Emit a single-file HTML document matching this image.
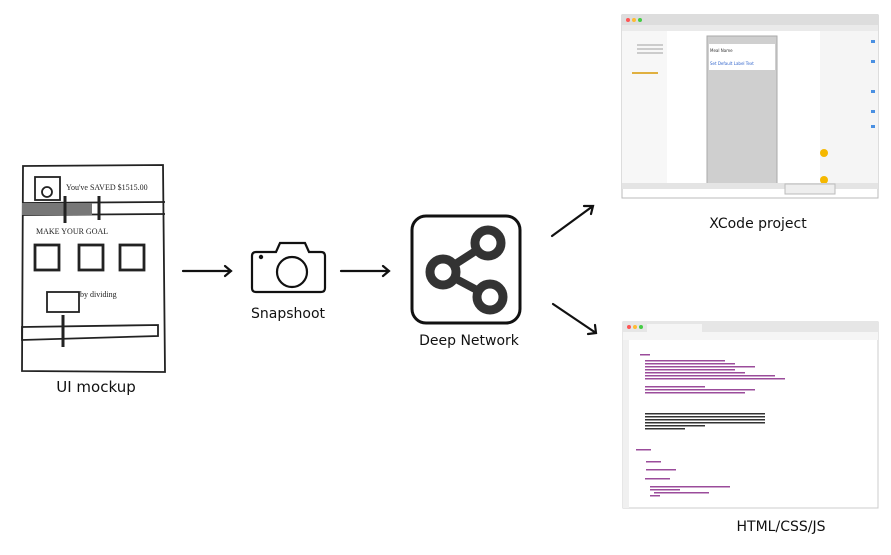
<!DOCTYPE html>
<html><head><meta charset="utf-8"><style>
body{margin:0;background:#fff;width:891px;height:551px;overflow:hidden;font-family:"DejaVu Sans","Liberation Sans",sans-serif}
</style></head><body>
<svg width="891" height="551" viewBox="0 0 891 551" xmlns="http://www.w3.org/2000/svg" font-family="DejaVu Sans, Liberation Sans, sans-serif">
<!-- Mockup sketch -->
<g stroke="#222" fill="none" stroke-width="1.8">
<path d="M23 166 L163 165 L165 372 L22 371 Z"/>
<rect x="35" y="177" width="25" height="23"/>
<circle cx="47" cy="192" r="5"/>
<path d="M22 203 L165 202 M22 215 L165 214"/>
<rect x="22" y="203" width="70" height="12" fill="#777" stroke="none"/>
<path d="M65 196 L65 223 M99 196 L99 220" stroke-width="3"/>
<rect x="35" y="245" width="24" height="25" stroke-width="2.8"/>
<rect x="79" y="245" width="24" height="25" stroke-width="2.8"/>
<rect x="120" y="245" width="24" height="25" stroke-width="2.8"/>
<rect x="47" y="292" width="32" height="20"/>
<path d="M22 327 L158 325 L158 336 L22 340 Z"/>
<path d="M63 315 L63 347" stroke-width="3"/>
</g>
<g font-size="8" fill="#222" font-family="Liberation Serif,serif">
<text x="66" y="190">You've SAVED $1515.00</text>
<text x="36" y="234">MAKE YOUR GOAL</text>
<text x="80" y="297">by dividing</text>
</g>
<text x="96" y="392" font-size="15" text-anchor="middle" fill="#111">UI mockup</text>

<!-- arrows -->
<g stroke="#111" stroke-width="2.2" fill="none" stroke-linecap="round">
<path d="M183 271 L231 271 M225 266 L231 271 L225 276"/>
<path d="M341 271 L389 271 M383 266 L389 271 L383 276"/>
<path d="M552 236 L593 206 M584 206 L593 206 L591 214"/>
<path d="M553 304 L596 333 M595 325 L596 333 L588 334"/>
</g>

<!-- camera -->
<g stroke="#111" stroke-width="2.2" fill="none">
<path d="M256 252 Q252 252 252 256 L252 288 Q252 292 256 292 L321 292 Q325 292 325 288 L325 256 Q325 252 321 252 L309 252 L305 243 L280 243 L276 252 Z"/>
<circle cx="292" cy="272" r="15"/>
</g>
<circle cx="261" cy="257" r="2.2" fill="#111"/>
<text x="288" y="318" font-size="14" text-anchor="middle" fill="#111">Snapshoot</text>

<!-- deep network -->
<rect x="412" y="216" width="108" height="107" rx="14" fill="none" stroke="#111" stroke-width="3"/>
<g stroke="#333" fill="none">
<path d="M443 272 L488 243 M443 272 L490 297" stroke-width="8"/>
<circle cx="443" cy="272" r="13" stroke-width="9" fill="#fff"/>
<circle cx="488" cy="243" r="13" stroke-width="9" fill="#fff"/>
<circle cx="490" cy="297" r="13" stroke-width="9" fill="#fff"/>
</g>
<text x="469" y="345" font-size="14" text-anchor="middle" fill="#111">Deep Network</text>

<!-- XCode screenshot -->
<rect x="622" y="15" width="256" height="183" fill="#fff" stroke="#bbb"/>
<rect x="622" y="15" width="256" height="10" fill="#ddd"/>
<circle cx="628" cy="20" r="2" fill="#f55"/><circle cx="634" cy="20" r="2" fill="#fb3"/><circle cx="640" cy="20" r="2" fill="#4c4"/>
<rect x="622" y="25" width="256" height="6" fill="#eaeaea"/>
<rect x="622" y="31" width="45" height="152" fill="#f7f7f7"/>
<rect x="637" y="44" width="26" height="2" fill="#ccc"/>
<rect x="637" y="48" width="26" height="2" fill="#ccc"/>
<rect x="637" y="52" width="26" height="2" fill="#ccc"/>
<rect x="632" y="72" width="26" height="2" fill="#e0b040"/>
<rect x="707" y="36" width="70" height="150" fill="#cfcfcf" stroke="#aaa"/>
<rect x="709" y="44" width="66" height="26" fill="#fff"/>
<text x="710" y="52" font-size="4" fill="#333">Meal Name</text>
<text x="710" y="65" font-size="4" fill="#36c">Set Default Label Text</text>
<rect x="820" y="31" width="58" height="152" fill="#f5f5f5"/>
<g fill="#4a90e2"><rect x="871" y="40" width="4" height="3"/><rect x="871" y="60" width="4" height="3"/><rect x="871" y="90" width="4" height="3"/><rect x="871" y="110" width="4" height="3"/><rect x="871" y="125" width="4" height="3"/></g>
<circle cx="824" cy="153" r="4" fill="#f5b800"/>
<circle cx="824" cy="180" r="4" fill="#f5b800"/>
<rect x="622" y="183" width="256" height="6" fill="#e4e4e4"/>
<rect x="785" y="184" width="50" height="10" fill="#eee" stroke="#bbb"/>
<text x="758" y="228" font-size="14" text-anchor="middle" fill="#111">XCode project</text>

<!-- HTML screenshot -->
<rect x="623" y="322" width="255" height="186" fill="#fff" stroke="#ccc"/>
<rect x="623" y="322" width="255" height="10" fill="#e6e6e6"/>
<circle cx="629" cy="327" r="2" fill="#f55"/><circle cx="635" cy="327" r="2" fill="#fb3"/><circle cx="641" cy="327" r="2" fill="#4c4"/>
<rect x="647" y="324" width="55" height="8" fill="#f5f5f5"/>
<rect x="623" y="332" width="255" height="8" fill="#f5f5f5"/>
<rect x="623" y="340" width="6" height="168" fill="#f0f0f0"/>
<g fill="#9b4c9b">
<rect x="640" y="354" width="10" height="1.5"/><rect x="645" y="360" width="80" height="1.5"/>
<rect x="645" y="363" width="90" height="1.5"/><rect x="645" y="366" width="110" height="1.5"/>
<rect x="645" y="369" width="90" height="1.5"/><rect x="645" y="372" width="100" height="1.5"/>
<rect x="645" y="375" width="130" height="1.5"/><rect x="645" y="378" width="140" height="1.5"/>
<rect x="645" y="386" width="60" height="1.5"/><rect x="645" y="389" width="110" height="1.5"/>
<rect x="645" y="392" width="100" height="1.5"/>
<rect x="645" y="413" width="120" height="1.5" fill="#333"/><rect x="645" y="416" width="120" height="1.5" fill="#333"/>
<rect x="645" y="419" width="120" height="1.5" fill="#333"/><rect x="645" y="422" width="120" height="1.5" fill="#333"/>
<rect x="645" y="425" width="60" height="1.5" fill="#333"/><rect x="645" y="428" width="40" height="1.5" fill="#333"/>
<rect x="636" y="449" width="15" height="1.5"/><rect x="646" y="461" width="15" height="1.5"/>
<rect x="646" y="469" width="30" height="1.5"/><rect x="645" y="478" width="25" height="1.5"/>
<rect x="650" y="486" width="80" height="1.5"/><rect x="650" y="489" width="30" height="1.5"/>
<rect x="654" y="492" width="55" height="1.5"/><rect x="650" y="495" width="10" height="1.5"/>
</g>
<text x="781" y="531" font-size="14" text-anchor="middle" fill="#111">HTML/CSS/JS</text>
</svg>
</body></html>
